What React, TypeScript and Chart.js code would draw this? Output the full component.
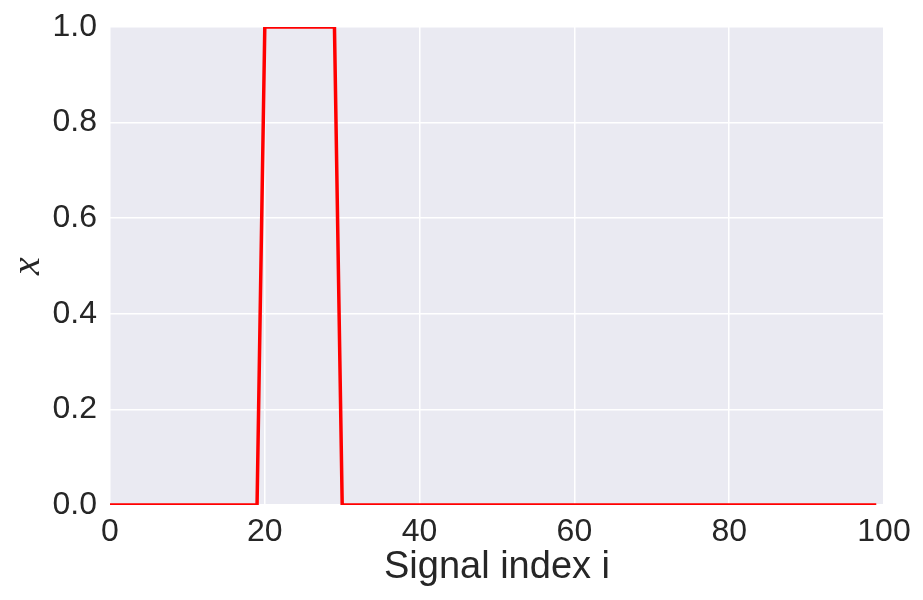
import React, { useEffect, useRef } from "react";
import { Chart, registerables } from "chart.js";

Chart.register(...registerables);

// Signal values x[i] for i = 0..99
const signal: number[] = [
  0, 0, 0, 0, 0, 0, 0, 0, 0, 0,
  0, 0, 0, 0, 0, 0, 0, 0, 0, 0,
  1, 1, 1, 1, 1, 1, 1, 1, 1, 1,
  0, 0, 0, 0, 0, 0, 0, 0, 0, 0,
  0, 0, 0, 0, 0, 0, 0, 0, 0, 0,
  0, 0, 0, 0, 0, 0, 0, 0, 0, 0,
  0, 0, 0, 0, 0, 0, 0, 0, 0, 0,
  0, 0, 0, 0, 0, 0, 0, 0, 0, 0,
  0, 0, 0, 0, 0, 0, 0, 0, 0, 0,
  0, 0, 0, 0, 0, 0, 0, 0, 0, 0,
];
const xTicks: number[] = [0, 20, 40, 60, 80, 100];
const yTicks: number[] = [0, 0.2, 0.4, 0.6, 0.8, 1.0];
const xLabel = "Signal index i";
const yLabel = "x";

const bgPlugin = {
  id: "plotBg",
  beforeDraw(chart: any) {
    const { ctx, chartArea } = chart;
    ctx.save();
    ctx.fillStyle = "#EAEAF2";
    ctx.fillRect(chartArea.left, chartArea.top, chartArea.right - chartArea.left, chartArea.bottom - chartArea.top);
    ctx.restore();
  },
};

export default function App() {
  const ref = useRef<HTMLCanvasElement>(null);
  useEffect(() => {
    document.body.style.margin = "0";
    const canvas = ref.current!;
    const chart = new Chart(canvas, {
      type: "line",
      data: {
        datasets: [
          {
            data: signal.map((v, i) => ({ x: i, y: v })),
            borderColor: "#FF0000",
            borderWidth: 3.5,
            pointRadius: 0,
            fill: false,
            tension: 0,
          },
        ],
      },
      options: {
        animation: false,
        responsive: false,
        layout: { padding: { top: 27, right: 39, left: 0, bottom: 0 } },
        plugins: { legend: { display: false }, tooltip: { enabled: false } },
        scales: {
          x: {
            type: "linear",
            min: 0,
            max: 100,
            afterBuildTicks: (s: any) => {
              s.ticks = xTicks.map((v) => ({ value: v }));
            },
            afterFit: (s: any) => {
              s.height = 95;
              s.paddingLeft = 0;
              s.paddingRight = 0;
            },
            grid: { color: "#FFFFFF", lineWidth: 1.5, drawTicks: false },
            border: { display: false },
            ticks: {
              padding: 8,
              color: "#262626",
              font: { family: "Liberation Sans, Arial, sans-serif", size: 32 },
              maxRotation: 0,
              callback: (v: any) => String(v),
            },
            title: {
              display: true,
              text: xLabel,
              color: "#262626",
              font: { family: "Liberation Sans, Arial, sans-serif", size: 38 },
              padding: { top: 0, bottom: 10 },
            },
          },
          y: {
            type: "linear",
            min: 0,
            max: 1,
            afterBuildTicks: (s: any) => {
              s.ticks = yTicks.map((v) => ({ value: v }));
            },
            afterFit: (s: any) => {
              s.width = 110;
              s.paddingTop = 0;
              s.paddingBottom = 0;
            },
            grid: { color: "#FFFFFF", lineWidth: 1.5, drawTicks: false },
            border: { display: false },
            ticks: {
              padding: 13,
              color: "#262626",
              font: { family: "Liberation Sans, Arial, sans-serif", size: 32 },
              callback: (v: any) => Number(v).toFixed(1),
            },
            title: {
              display: true,
              text: yLabel,
              color: "#262626",
              font: { family: "'Liberation Serif', serif", size: 40, style: "italic" },
              padding: { top: 4, bottom: 0 },
            },
          },
        },
      },
      plugins: [bgPlugin],
    });
    return () => chart.destroy();
  }, []);
  return <canvas ref={ref} width={923} height={600} style={{ display: "block" }} />;
}
